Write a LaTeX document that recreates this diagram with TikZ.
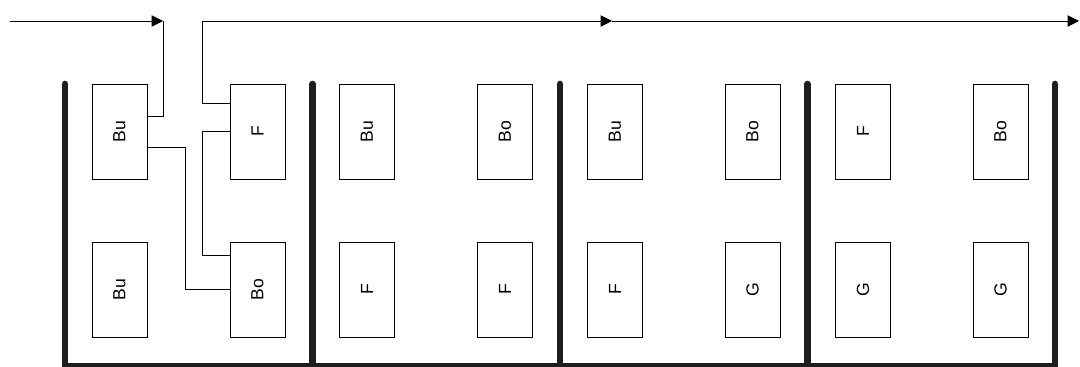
\documentclass[tikz,border=0pt]{standalone}
\usepackage{fontspec}
\setmainfont{Liberation Sans}
\usepackage{xcolor}
\usepackage{graphicx}
\usepackage{tikz}
\usetikzlibrary{arrows.meta, calc}
\definecolor{mydark}{RGB}{30,30,30}
\tikzset{
  box/.style={rectangle, draw=black, fill=white, minimum width=1.1cm,
    minimum height=1.9cm, inner sep=0pt, line width=0.5pt,
    font=\fontsize{10}{11}\selectfont},
  arrow/.style={-{Triangle[length=6.5pt,width=6.5pt]}, line width=0.5pt, color=black},
  line/.style={line width=0.5pt, color=black},
  wall/.style={line width=3.8pt, color=mydark, line cap=round},
  floor/.style={line width=3.8pt, color=mydark}
}

\begin{document}
\begin{tikzpicture}[x=0.02cm, y=-0.02cm]
  \useasboundingbox (0,0) rectangle (1080,367);

  % Section 1
  \node[box] (u1l) at (119.5,131.5) {\rotatebox{90}{Bu}};
  \node[box] (u1r) at (257.5,131.5) {\rotatebox{90}{F}};
  \node[box] (l1l) at (119.5,289.5) {\rotatebox{90}{Bu}};
  \node[box] (l1r) at (257.5,289.5) {\rotatebox{90}{Bo}};

  % Section 2
  \node[box] (u2l) at (367,131.5) {\rotatebox{90}{Bu}};
  \node[box] (u2r) at (505,131.5) {\rotatebox{90}{Bo}};
  \node[box] (l2l) at (367,289.5) {\rotatebox{90}{F}};
  \node[box] (l2r) at (505,289.5) {\rotatebox{90}{F}};

  % Section 3
  \node[box] (u3l) at (615,131.5) {\rotatebox{90}{Bu}};
  \node[box] (u3r) at (752.5,131.5) {\rotatebox{90}{Bo}};
  \node[box] (l3l) at (615,289.5) {\rotatebox{90}{F}};
  \node[box] (l3r) at (752.5,289.5) {\rotatebox{90}{G}};

  % Section 4
  \node[box] (u4l) at (863,131.5) {\rotatebox{90}{F}};
  \node[box] (u4r) at (1000.5,131.5) {\rotatebox{90}{Bo}};
  \node[box] (l4l) at (863,289.5) {\rotatebox{90}{G}};
  \node[box] (l4r) at (1000.5,289.5) {\rotatebox{90}{G}};

  % Walls and floor
  \draw[floor] (62,366) -- (1058,366);
  \draw[wall] (65,84) -- (65,366);
  \draw[wall] (312.5,84) -- (312.5,366);
  \draw[wall] (560,84) -- (560,366);
  \draw[wall] (807.5,84) -- (807.5,366);
  \draw[wall] (1055,84) -- (1055,366);

  % Flow lines
  \coordinate (in) at (10,21);
  \coordinate (j1) at (163,21);
  \coordinate (j2) at (202,21);
  \coordinate (mid) at (612,21);
  \coordinate (out) at (1079,21);
  \draw[arrow] (in) -- (j1);
  \draw[line] (j1) |- ($(u1l.east)+(0,-15.5)$);
  \draw[line] ($(u1r.west)+(0,-28.5)$) -| (j2);
  \draw[arrow] (j2) -- (mid);
  \draw[arrow] (mid) -- (out);
  \draw[line] ($(u1l.east)+(0,15.5)$) -- ++(38,0) |- (l1r.west);
  \draw[line] (u1r.west) -- ++(-27,0) |- ($(l1r.west)+(0,-34.5)$);
\end{tikzpicture}
\end{document}
